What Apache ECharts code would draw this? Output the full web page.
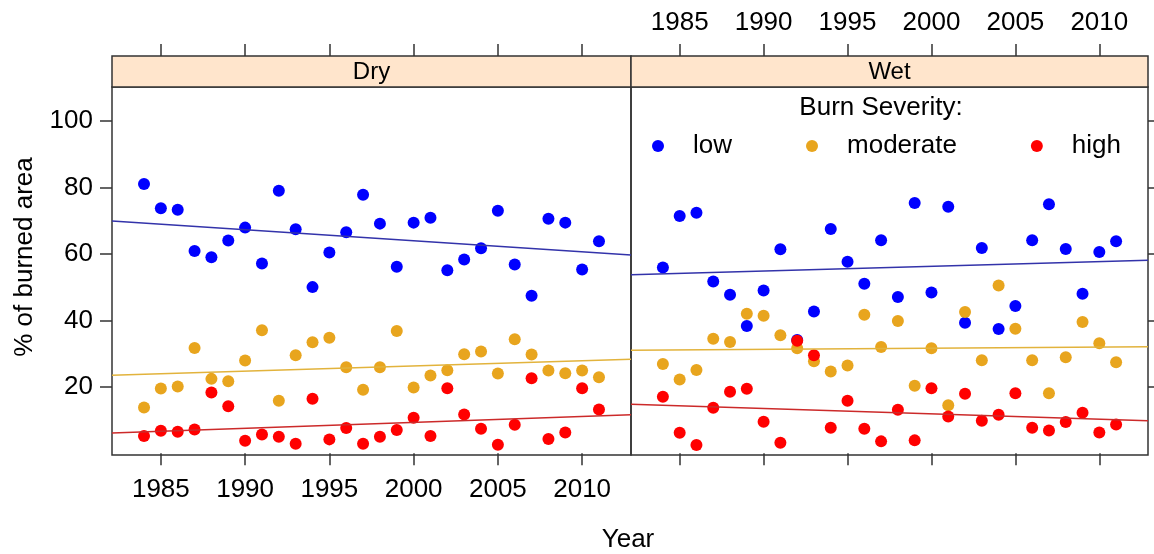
<!DOCTYPE html>
<html>
<head>
<meta charset="utf-8">
<script src="https://cdn.jsdelivr.net/npm/echarts@6/dist/echarts.min.js"></script>
<style>
  html, body { margin: 0; padding: 0; background: #fff; }
  #chart { width: 1154px; height: 554px; }
</style>
</head>
<body>
<div id="chart"></div>
<script>
// data
var years = [1984, 1985, 1986, 1987, 1988, 1989, 1990, 1991, 1992, 1993, 1994, 1995, 1996, 1997,
  1998, 1999, 2000, 2001, 2002, 2003, 2004, 2005, 2006, 2007, 2008, 2009, 2010, 2011]

var dryLow = [81.0, 73.7, 73.3, 60.9, 59.0, 64.0, 67.9, 57.1, 79.0, 67.4, 50.0, 60.4, 66.5, 77.8,
  69.1, 56.1, 69.4, 70.9, 55.1, 58.3, 61.7, 73.0, 56.8, 47.4, 70.6, 69.4, 55.3, 63.8]
var dryModerate = [13.8, 19.5, 20.1, 31.7, 22.4, 21.7, 27.9, 37.0, 15.8, 29.5, 33.4, 34.8, 25.9, 19.1,
  25.9, 36.8, 19.8, 23.4, 25.0, 29.8, 30.6, 24.0, 34.3, 29.7, 24.9, 24.1, 24.9, 22.9]
var dryHigh = [5.2, 6.8, 6.5, 7.2, 18.3, 14.2, 3.8, 5.7, 5.0, 2.9, 16.4, 4.2, 7.6, 2.9,
  5.0, 7.0, 10.7, 5.2, 19.6, 11.7, 7.4, 2.6, 8.6, 22.6, 4.3, 6.3, 19.6, 13.2]

var wetLow = [55.9, 71.4, 72.4, 51.7, 47.7, 38.3, 49.0, 61.4, 34.1, 42.7, 67.5, 57.6, 51.0, 64.1,
  47.0, 75.3, 48.4, 74.2, 39.3, 61.8, 37.4, 44.3, 64.1, 74.9, 61.5, 48.0, 60.6, 63.8]
var wetModerate = [26.9, 22.2, 25.1, 34.5, 33.5, 42.0, 41.4, 35.5, 31.6, 27.7, 24.6, 26.4, 41.7, 32.0,
  39.8, 20.3, 31.6, 14.5, 42.5, 28.0, 50.5, 37.5, 28.0, 18.1, 28.9, 39.5, 33.1, 27.4]
var wetHigh = [17.0, 6.2, 2.5, 13.7, 18.5, 19.4, 9.5, 3.2, 33.9, 29.5, 7.7, 15.8, 7.4, 3.6,
  13.1, 3.9, 19.6, 11.1, 17.9, 9.8, 11.6, 18.1, 7.7, 6.9, 9.4, 12.2, 6.3, 8.7]

// fitted lines, value at left and right edge of the panel
var dryTrend = { low: [69.9, 59.7], moderate: [23.5, 28.3], high: [6.1, 11.6] }
var wetTrend = { low: [53.7, 58.1], moderate: [31.0, 32.1], high: [14.8, 9.8] }

var severities = ['low', 'moderate', 'high']
var yearTicks = [1985, 1990, 1995, 2000, 2005, 2010]
var pctTicks = [20, 40, 60, 80, 100]

var XMIN = 1982.1
var XMAX = 2012.9
var FONT = 'Liberation Sans, Arial, sans-serif'
var pointColors = { low: '#0000ff', moderate: '#e8a51e', high: '#ff0000' }
var lineColors = { low: '#3333aa', moderate: '#e2b33c', high: '#cc2a2a' }

function pairs(vals) {
  return years.map(function(y, i) { return [y, vals[i]] })
}

function xAxisDef(grid, pos, showLabel, offset) {
  return {
    type: 'value', gridIndex: grid, position: pos, min: XMIN, max: XMAX, offset: offset || 0,
    axisLine: { show: false },
    splitLine: { show: false },
    axisTick: { show: true, inside: false, length: 12, customValues: yearTicks,
      lineStyle: { color: '#333', width: 1.5 } },
    axisLabel: { show: showLabel, customValues: yearTicks, fontSize: 26, color: '#000',
      fontFamily: FONT, margin: pos === 'top' ? 20 : 22,
      formatter: function(v) { return String(Math.round(v)) } }
  }
}

function yAxisDef(grid, pos, showLabel) {
  return {
    type: 'value', gridIndex: grid, position: pos, min: -0.5, max: 110.2,
    axisLine: { show: false },
    splitLine: { show: false },
    axisTick: { show: true, inside: false, length: 12, customValues: pctTicks,
      lineStyle: { color: '#333', width: 1.5 } },
    axisLabel: { show: showLabel, customValues: pctTicks, fontSize: 26, color: '#000',
      fontFamily: FONT, margin: 19 }
  }
}

var panels = [
  { xi: 0, yi: 0, data: { low: dryLow, moderate: dryModerate, high: dryHigh }, trend: dryTrend },
  { xi: 2, yi: 1, data: { low: wetLow, moderate: wetModerate, high: wetHigh }, trend: wetTrend }
]

var series = []
panels.forEach(function(p) {
  severities.forEach(function(s) {
    series.push({
      name: s, type: 'scatter', xAxisIndex: p.xi, yAxisIndex: p.yi,
      symbol: 'circle', symbolSize: 12,
      itemStyle: { color: pointColors[s], opacity: 1 },
      data: pairs(p.data[s])
    })
    series.push({
      name: s + ' fit', type: 'line', xAxisIndex: p.xi, yAxisIndex: p.yi,
      showSymbol: false, silent: true,
      lineStyle: { color: lineColors[s], width: 1.5 },
      data: [[XMIN, p.trend[s][0]], [XMAX, p.trend[s][1]]]
    })
  })
})

var chart = echarts.init(document.getElementById('chart'))
chart.setOption({
  backgroundColor: '#fff',
  animation: false,
  textStyle: { fontFamily: FONT },
  grid: [
    { left: 112, top: 87, width: 519, height: 368, show: true, borderColor: '#333', borderWidth: 1.5 },
    { left: 631, top: 87, width: 517, height: 368, show: true, borderColor: '#333', borderWidth: 1.5 }
  ],
  xAxis: [
    xAxisDef(0, 'bottom', true),
    xAxisDef(0, 'top', false, 31),
    xAxisDef(1, 'bottom', false),
    xAxisDef(1, 'top', true, 31)
  ],
  yAxis: [
    yAxisDef(0, 'left', true),
    yAxisDef(1, 'right', false)
  ],
  legend: {
    data: severities,
    left: 647, top: 128,
    icon: 'circle', itemWidth: 12, itemHeight: 12, itemGap: 74,
    itemStyle: { opacity: 1 },
    textStyle: { fontSize: 26, color: '#000', fontFamily: FONT, padding: [0, 0, 0, 24] }
  },
  graphic: [
    { type: 'rect', shape: { x: 112, y: 56, width: 519, height: 31 },
      style: { fill: '#ffe5cc', stroke: '#333', lineWidth: 1.5 } },
    { type: 'rect', shape: { x: 631, y: 56, width: 517, height: 31 },
      style: { fill: '#ffe5cc', stroke: '#333', lineWidth: 1.5 } },
    { type: 'text', x: 371.5, y: 72, style: { text: 'Dry', fontSize: 24, fill: '#000',
      fontFamily: FONT, textAlign: 'center', textVerticalAlign: 'middle' } },
    { type: 'text', x: 889.5, y: 72, style: { text: 'Wet', fontSize: 24, fill: '#000',
      fontFamily: FONT, textAlign: 'center', textVerticalAlign: 'middle' } },
    { type: 'text', x: 881, y: 108, style: { text: 'Burn Severity:', fontSize: 26, fill: '#000',
      fontFamily: FONT, textAlign: 'center', textVerticalAlign: 'middle' } },
    { type: 'text', x: 628, y: 540, style: { text: 'Year', fontSize: 26, fill: '#000',
      fontFamily: FONT, textAlign: 'center', textVerticalAlign: 'middle' } },
    { type: 'text', x: 25, y: 257, rotation: Math.PI / 2,
      style: { text: '% of burned area', fontSize: 26, fill: '#000',
      fontFamily: FONT, textAlign: 'center', textVerticalAlign: 'middle' } }
  ],
  series: series
})
</script>
</body>
</html>
